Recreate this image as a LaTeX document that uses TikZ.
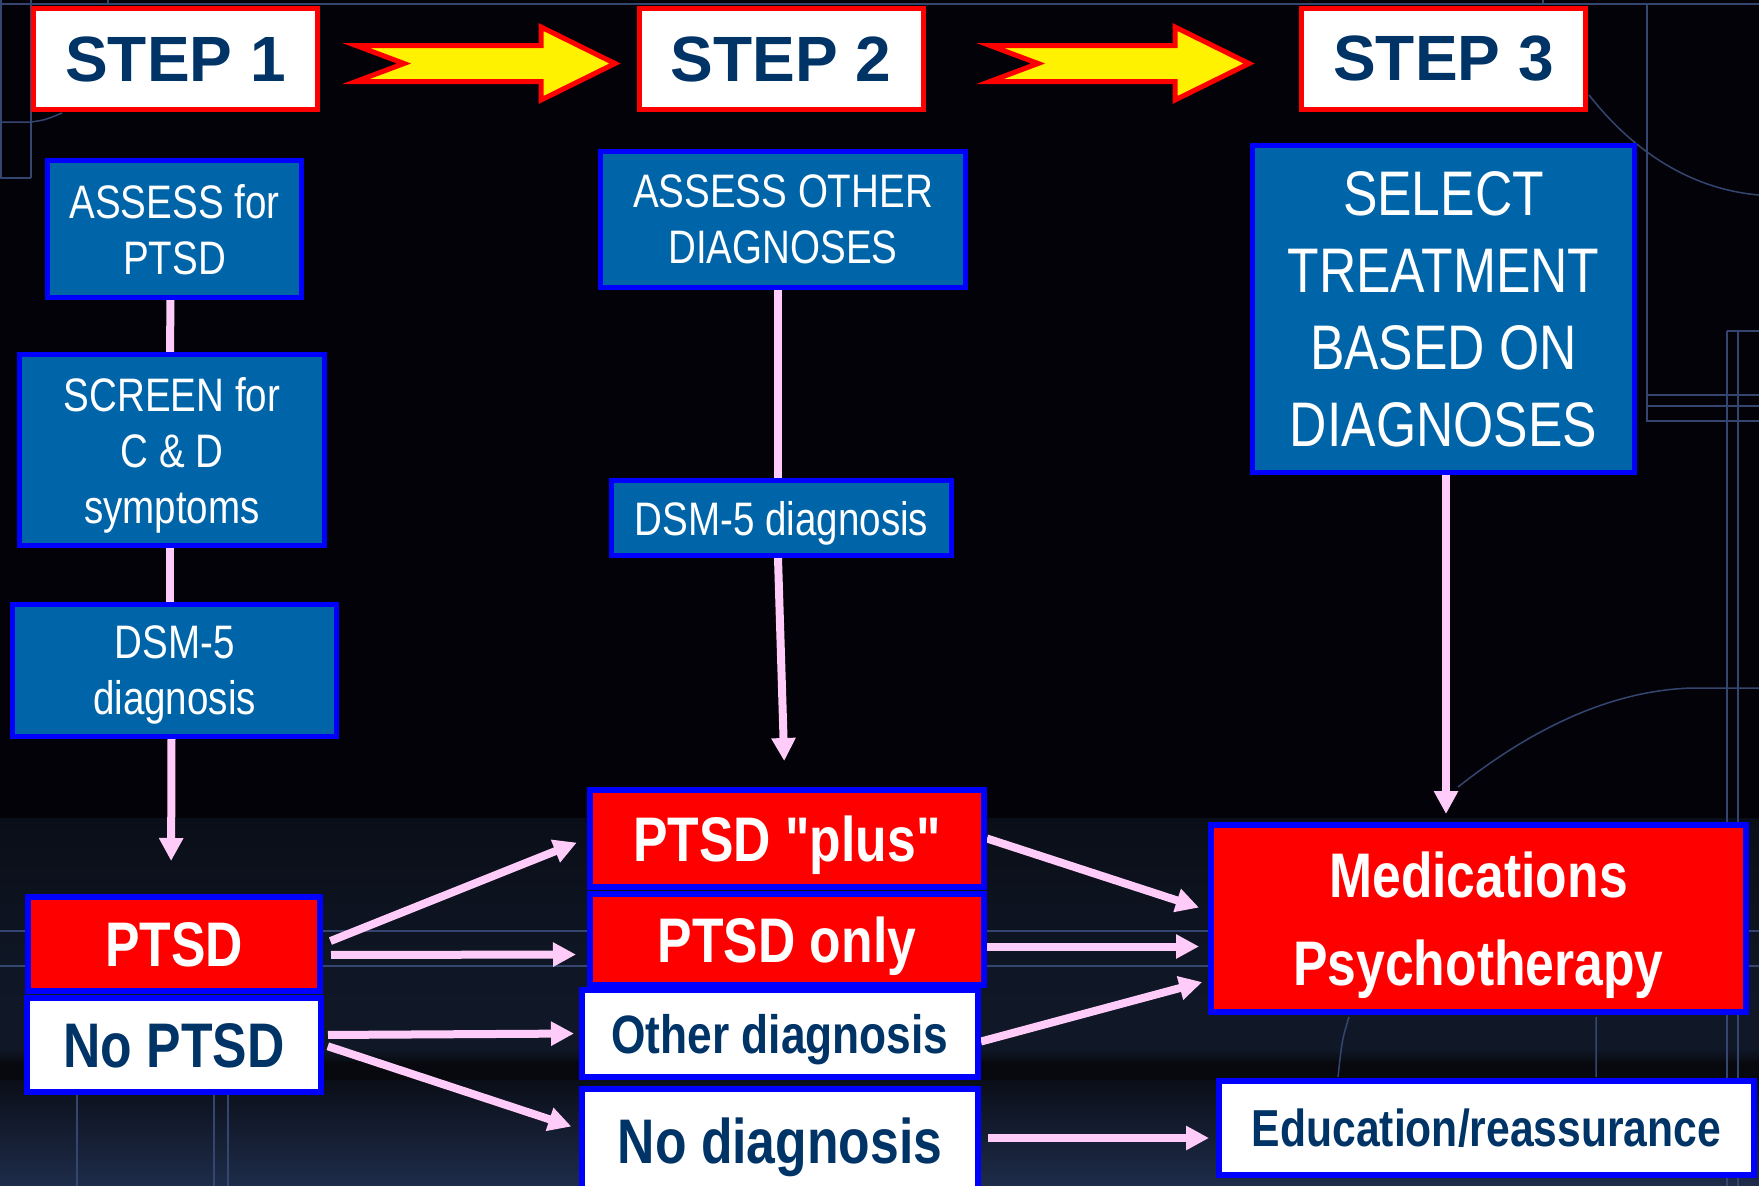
\documentclass[tikz,border=0pt]{standalone}
\usepackage{fontspec}
\setmainfont{Liberation Sans}
\newfontfamily\narrowfont[FakeStretch=0.82]{Liberation Sans}
\usetikzlibrary{arrows.meta}
\pgfdeclarelayer{back}
\pgfdeclarelayer{bg}
\pgfsetlayers{back,bg,main}
\definecolor{boxblue}{RGB}{0,100,168}
\definecolor{rimblue}{RGB}{0,0,255}
\definecolor{stepred}{RGB}{255,0,0}
\definecolor{navytext}{RGB}{0,51,102}
\definecolor{arrowpink}{RGB}{255,204,250}
\definecolor{gridblue}{RGB}{52,70,112}
\definecolor{night}{RGB}{2,2,8}
\definecolor{bandtop}{RGB}{10,14,24}
\definecolor{bandmid}{RGB}{16,24,40}
\definecolor{bandglow}{RGB}{38,54,88}
\definecolor{banddark}{RGB}{7,9,14}
\definecolor{bandlow}{RGB}{30,44,74}
\tikzset{
  stepbox/.style={draw=stepred, line width=5pt, fill=white, text=navytext,
    minimum width=284pt, minimum height=101pt, inner sep=0pt,
    font=\bfseries\fontsize{64}{70}\selectfont},
  bluebox/.style={draw=rimblue, line width=5pt, fill=boxblue, text=white,
    align=center, inner sep=0pt, text depth=0pt,
    font=\narrowfont\fontsize{47}{56}\selectfont},
  redbox/.style={draw=rimblue, line width=6pt, fill=stepred, text=white,
    align=center, inner sep=0pt, text depth=0pt,
    font=\narrowfont\bfseries\fontsize{63}{88}\selectfont},
  whitebox/.style={redbox, fill=white, text=navytext},
  link/.style={draw=arrowpink, line width=8pt},
  flow/.style={link, -{Triangle[length=23pt,width=23pt]}},
  decor/.style={draw=gridblue, line width=1.5pt}
}

\begin{document}
\begin{tikzpicture}[x=1pt,y=-1pt]
  \useasboundingbox (0,0) rectangle (1759,1186);

  % steps
  \node[stepbox] (step1) at (175.5,59) {STEP 1};
  \node[stepbox] (step2) at (781,59) {STEP 2};
  \node[stepbox] (step3) at (1443.5,59) {STEP 3};

  \node[bluebox, minimum width=254pt, minimum height=137pt] (assessA) at (174.5,229) {ASSESS for\\PTSD};
  \node[bluebox, minimum width=305pt, minimum height=191pt] (screen) at (172,450) {SCREEN for\\C \& D\\symptoms};
  \node[bluebox, minimum width=324pt, minimum height=132pt] (dsmA) at (174.5,670.5) {DSM-5\\diagnosis};
  \node[bluebox, minimum width=365pt, minimum height=136pt] (assessB) at (783,219.5) {ASSESS OTHER\\DIAGNOSES};
  \node[bluebox, minimum width=340pt, minimum height=75pt] (dsmB) at (781.5,518) {DSM-5 diagnosis};
  \node[bluebox, minimum width=382pt, minimum height=327pt,
    font=\narrowfont\fontsize{63}{77}\selectfont] (select) at (1443.5,309) {SELECT\\TREATMENT\\BASED ON\\DIAGNOSES};

  % outcomes
  \node[redbox, minimum width=292pt, minimum height=94pt] (ptsd) at (174,944) {PTSD};
  \node[whitebox, minimum width=294pt, minimum height=94pt] (noptsd) at (174,1045) {No PTSD};
  \node[redbox, minimum width=394pt, minimum height=97pt] (plus) at (787,838.5) {PTSD "plus"};
  \node[redbox, minimum width=394pt, minimum height=91pt] (only) at (787,939.5) {PTSD only};
  \node[whitebox, minimum width=396pt, minimum height=87pt,
    font=\narrowfont\bfseries\fontsize{54}{60}\selectfont] (other) at (780,1033.5) {Other diagnosis};
  \node[whitebox, minimum width=396pt, minimum height=104pt] (nodiag) at (780,1141) {No diagnosis};
  \node[redbox, minimum width=535pt, minimum height=187pt] (meds) at (1478.5,918.5) {Medications\\Psychotherapy};
  \node[whitebox, minimum width=535pt, minimum height=94pt,
    font=\narrowfont\bfseries\fontsize{52}{60}\selectfont] (educ) at (1486.5,1128) {Education/reassurance};

  \begin{pgfonlayer}{back}
    \fill[night] (0,0) rectangle (1759,1186);
    \shade[top color=bandtop, bottom color=bandmid] (0,818) rectangle (1759,1010);
    \shade[top color=bandmid, middle color=bandglow, bottom color=bandmid] (0,1008) rectangle (1759,1050);
    \shade[top color=bandmid, bottom color=banddark] (0,1048) rectangle (1759,1064);
    \fill[banddark] (0,1062) rectangle (1759,1082);
    \shade[top color=bandtop, middle color=bandglow, bottom color=bandlow] (0,1080) rectangle (1759,1186);
    \draw[decor] (0,4) -- (1759,4) (108,0) -- (108,4) (1543,0) -- (1543,4);
    \draw[decor] (1,0) -- (1,178) (31,0) -- (31,178) (0,178) -- (31,178);
    \draw[decor] (0,122) -- (31,122) .. controls (45,120) .. (62,113);
    \draw[decor] (1647,4) -- (1647,422) (1647,395) -- (1759,395) (1647,406) -- (1759,406) (1647,421) -- (1759,421);
    \draw[decor] (1727,331) -- (1759,331) (1727,331) -- (1727,1186) (1738,331) -- (1738,1186);
    \draw[decor] (1589,95) .. controls (1640,160) and (1700,190) .. (1759,195);
    \draw[decor] (1458,787) .. controls (1530,730) and (1610,690) .. (1693,688) -- (1759,688);
    \draw[decor] (0,931) -- (1759,931) (0,966) -- (1759,966);
    \draw[decor] (77,1095) -- (77,1186) (214,1095) -- (214,1186) (228,1095) -- (228,1186);
    \draw[decor] (1596,1017) -- (1596,1077) (1349,1017) .. controls (1342,1040) .. (1338,1077);
    % yellow arrows between steps
    \foreach \dx in {0,634} {
      \draw[stepred, fill=yellow, line width=5pt, line join=miter]
        ({356+\dx},45.5) -- ({541+\dx},45.5) -- ({541+\dx},27) -- ({615+\dx},63.5)
        -- ({541+\dx},100) -- ({541+\dx},81.5) -- ({356+\dx},81.5) -- ({404+\dx},63.5) -- cycle;
    }
  \end{pgfonlayer}

  \begin{pgfonlayer}{bg}
    \draw[link] ([xshift=-4pt]assessA.south) -- ([xshift=-2pt]screen.north);
    \draw[link] ([xshift=-2pt]screen.south) -- ([xshift=-4.5pt]dsmA.north);
    \draw[link] ([xshift=-5pt]assessB.south) -- ([xshift=-3.5pt]dsmB.north);
    \draw[flow, shorten >=33pt] ([xshift=-3pt]dsmA.south) -- ([xshift=-3pt]ptsd.north);
    \draw[flow, shorten >=26pt] ([xshift=-3.5pt]dsmB.south) -- ([xshift=-2pt]plus.north);
    \draw[flow, shorten >=8pt] ([xshift=2.5pt]select.south) -- ([xshift=2.5pt]select.south |- meds.north);
    \draw[flow, shorten <=8pt, shorten >=11pt] (ptsd.east) -- (plus.west);
    \draw[flow, shorten <=8pt, shorten >=11pt] ([yshift=-11pt]ptsd.east) -- ([yshift=-15pt]only.west);
    \draw[flow, shorten <=4pt, shorten >=5pt] ([yshift=10pt]noptsd.east) -- (other.west);
    \draw[flow, shorten <=4pt, shorten >=8pt] (noptsd.east) -- ([yshift=12pt]nodiag.west);
    \draw[flow, shorten >=9.5pt] (plus.east) -- ([yshift=8pt]meds.west);
    \draw[flow, shorten >=9pt] ([yshift=-7pt]only.east) -- ([yshift=-28pt]meds.west);
    \draw[flow, shorten >=6pt] ([yshift=-8pt]other.east) -- ([yshift=-62pt]meds.west);
    \draw[flow, shorten <=7pt, shorten >=7pt] ([yshift=3pt]nodiag.east) -- ([yshift=-10pt]educ.west);
  \end{pgfonlayer}

\end{tikzpicture}
\end{document}
